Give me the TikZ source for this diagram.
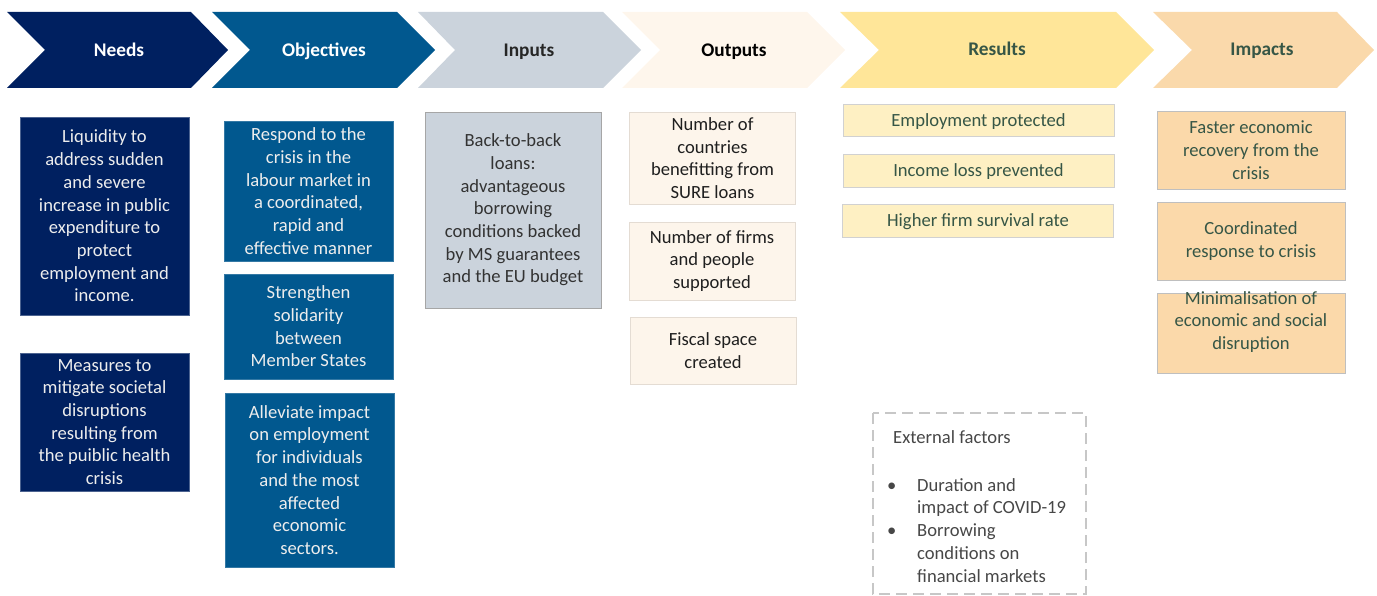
\documentclass[tikz,border=0pt]{standalone}
\usepackage{fontspec}
\setmainfont{Carlito}
\definecolor{cNeed}{HTML}{002060}
\definecolor{cObj}{HTML}{01588F}
\definecolor{cInp}{HTML}{CBD3DC}
\definecolor{cOutH}{HTML}{FEF6EC}
\definecolor{cOut}{HTML}{FDF5EB}
\definecolor{cResH}{HTML}{FFE699}
\definecolor{cRes}{HTML}{FEF0C3}
\definecolor{cImpH}{HTML}{FAD9AB}
\definecolor{cImp}{HTML}{FBD9AA}
\definecolor{tGreen}{HTML}{365646}
\definecolor{tLight}{HTML}{EDEDED}
\begin{document}
\begin{tikzpicture}[x=1pt,y=-1pt,
  body/.style={font=\fontsize{18.6}{22.7}\selectfont, align=center, inner sep=0pt},
  hdr/.style={font=\fontsize{19.3}{23}\selectfont\bfseries, inner sep=0pt, anchor=base},
  boxn/.style={draw, line width=0.8pt, inner sep=0pt},
  needbox/.style={boxn, body, fill=cNeed, draw=cNeed!70!white, text=tLight, minimum width=169pt},
  objbox/.style={boxn, body, fill=cObj, draw=cObj!80!white, text=tLight, minimum width=169pt},
  outbox/.style={boxn, body, fill=cOut, draw=cOut!90!black, text=black!88, minimum width=166pt},
  resbox/.style={boxn, body, fill=cRes, draw=black!18, text=tGreen, minimum width=271pt, text height=13pt, text depth=0pt},
  impbox/.style={boxn, body, fill=cImp, draw=black!25, text=tGreen, minimum width=188pt},
  ext/.style={font=\fontsize{18.6}{22.7}\selectfont, text=black!72, anchor=base west, inner sep=0pt}
]
\useasboundingbox (0,0) rectangle (1377,596);
% chevrons
\fill[cNeed] (7,12) -- (191,12) -- (228,50) -- (191,88) -- (7,88) -- (45,50) -- cycle;
\fill[cObj] (212,12) -- (397,12) -- (435,50) -- (397,88) -- (212,88) -- (250,50) -- cycle;
\fill[cInp] (418,12) -- (603,12) -- (641,50) -- (603,88) -- (418,88) -- (455,50) -- cycle;
\fill[cOutH] (622,12) -- (807,12) -- (845,50) -- (807,88) -- (622,88) -- (660,50) -- cycle;
\fill[cResH] (840,12) -- (1116,12) -- (1154,50) -- (1116,88) -- (840,88) -- (879,50) -- cycle;
\fill[cImpH] (1153,12) -- (1337,12) -- (1374,50) -- (1337,88) -- (1153,88) -- (1192,50) -- cycle;
\node[hdr, text=white] (hN) at (119,57) {Needs};
\node[hdr, text=white] (hO) at (324,57) {Objectives};
\node[hdr, text=black!85] (hI) at (529,57) {Inputs};
\node[hdr, text=black] (hOu) at (734,57) {Outputs};
\node[hdr, text=tGreen] (hR) at (997,56) {Results};
\node[hdr, text=tGreen] (hIm) at (1262,56) {Impacts};
% needs
\node[needbox, minimum height=198pt] (n1) at (104.5,216) {Liquidity to\\address sudden\\and severe\\increase in public\\expenditure to\\protect\\employment and\\income.};
\node[needbox, minimum height=138pt] (n2) at (104.5,422) {Measures to\\mitigate societal\\disruptions\\resulting from\\the puiblic health\\crisis};
% objectives
\node[objbox, minimum height=140pt] (o1) at (308.5,191) {Respond to the\\crisis in the\\labour market in\\a coordinated,\\rapid and\\effective manner};
\node[objbox, minimum height=105pt] (o2) at (308.5,326.5) {Strengthen\\solidarity\\between\\Member States};
\node[objbox, minimum height=174pt] (o3) at (309.5,480) {Alleviate impact\\on employment\\for individuals\\and the most\\affected\\economic\\sectors.};
% inputs
\node[boxn, body, fill=cInp, draw=black!35, text=black!80, minimum width=176pt, minimum height=196pt] (in1) at (513,210) {Back-to-back\\loans:\\advantageous\\borrowing\\conditions backed\\by MS guarantees\\and the EU budget};
% outputs
\node[outbox, minimum height=92pt] (out1) at (712.5,158) {Number of\\countries\\benefitting from\\SURE loans};
\node[outbox, minimum height=78pt] (out2) at (712,261) {Number of firms\\and people\\supported};
\node[outbox, minimum height=67pt] (out3) at (713,350.5) {Fiscal space\\created};
% results
\node[resbox, minimum height=32pt] (r1) at (978.5,120) {Employment protected};
\node[resbox, minimum height=33pt] (r2) at (978.5,170.5) {Income loss prevented};
\node[resbox, minimum height=33pt] (r3) at (978,220.5) {Higher firm survival rate};
% impacts
\node[impbox, minimum height=78pt] (i1) at (1251,150) {Faster economic\\recovery from the\\crisis};
\node[impbox, minimum height=78pt] (i2) at (1251,241) {Coordinated\\response to crisis};
\node[impbox, minimum height=80pt] (i3) at (1251,333) {};
\node[body, text=tGreen] (i3t) at (1251,322) {Minimalisation of\\economic and social\\disruption};
% external factors
\draw[draw=black!22, line width=2pt, dash pattern=on 11pt off 6pt] (873,413) rectangle (1086,594);
\node[ext] (e0) at (893,443) {External factors};
\node[ext] (b1) at (887,491) {\textbullet};
\node[ext] (e1) at (917,491) {Duration and};
\node[ext] (e2) at (917,513) {impact of COVID-19};
\node[ext] (b2) at (887,536) {\textbullet};
\node[ext] (e3) at (917,536) {Borrowing};
\node[ext] (e4) at (917,559) {conditions on};
\node[ext] (e5) at (917,582) {financial markets};
\end{tikzpicture}
\end{document}
